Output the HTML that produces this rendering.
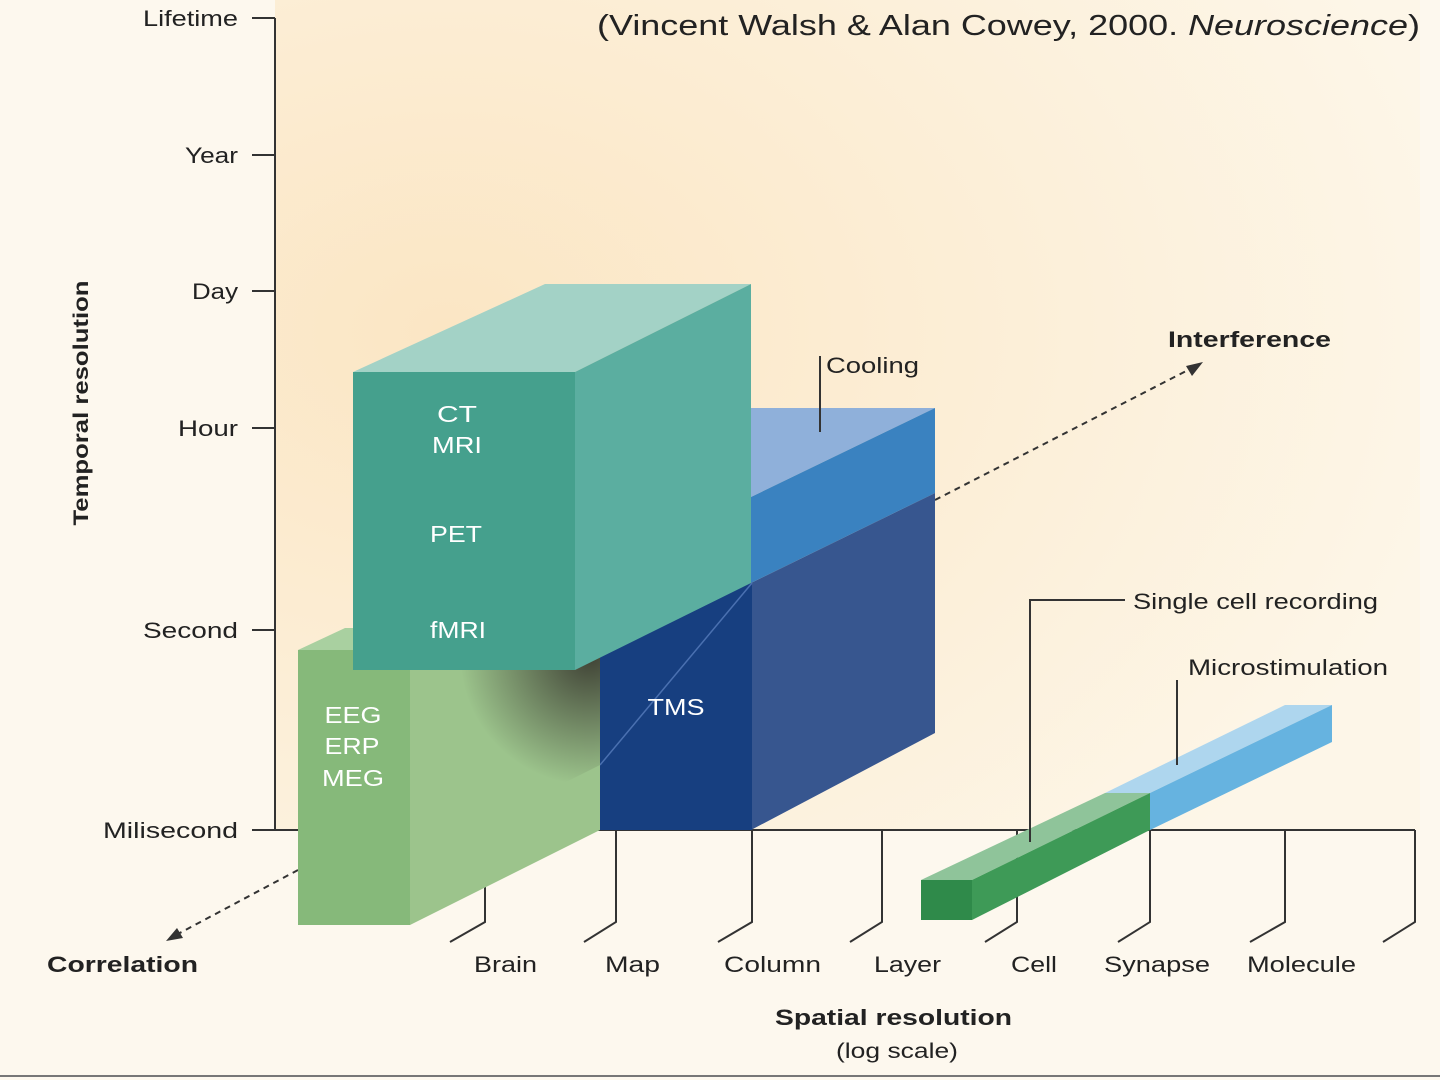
<!DOCTYPE html>
<html><head><meta charset="utf-8"><style>
body{margin:0;background:#fdf8ee}
svg{display:block}
text{font-family:"Liberation Sans",sans-serif;fill:#222}
</style></head><body>
<svg width="1440" height="1080" viewBox="0 0 1440 1080">
<defs>
<radialGradient id="bg" cx="0.15" cy="0.4" r="0.9">
<stop offset="0" stop-color="#fbe6c4"/><stop offset="1" stop-color="#fdf6e8"/>
</radialGradient>
<radialGradient id="dark" gradientUnits="userSpaceOnUse" cx="590" cy="655" r="130">
<stop offset="0" stop-color="#3a3a30" stop-opacity="0.95"/><stop offset="1" stop-color="#3a3a30" stop-opacity="0"/>
</radialGradient>
</defs>
<rect width="1440" height="1080" fill="#fdf8ee"/>
<rect x="275" y="0" width="1145" height="830" fill="url(#bg)"/>
<line x1="0" y1="1076" x2="1440" y2="1076" stroke="#777" stroke-width="2"/>
<g stroke="#333" stroke-width="2" fill="none">
<line x1="275" y1="18" x2="275" y2="830"/>
<line x1="275" y1="830" x2="1415" y2="830"/>
<line x1="252" y1="18" x2="275" y2="18"/><line x1="252" y1="155" x2="275" y2="155"/>
<line x1="252" y1="291" x2="275" y2="291"/><line x1="252" y1="428" x2="275" y2="428"/>
<line x1="252" y1="630" x2="275" y2="630"/><line x1="252" y1="830" x2="275" y2="830"/>
<polyline points="485,830 485,922 450,942"/>
<polyline points="616,830 616,922 584,942"/>
<polyline points="752,830 752,922 718,942"/>
<polyline points="882,830 882,922 850,942"/>
<polyline points="1017,830 1017,922 985,942"/>
<polyline points="1150,830 1150,922 1118,942"/>
<polyline points="1285,830 1285,922 1250,942"/>
<polyline points="1415,830 1415,922 1383,942"/>
</g>
<g font-size="22" text-anchor="end">
<text x="238" y="26" textLength="95" lengthAdjust="spacingAndGlyphs">Lifetime</text>
<text x="238" y="163" textLength="53" lengthAdjust="spacingAndGlyphs">Year</text>
<text x="238" y="299" textLength="46" lengthAdjust="spacingAndGlyphs">Day</text>
<text x="238" y="436" textLength="60" lengthAdjust="spacingAndGlyphs">Hour</text>
<text x="238" y="638" textLength="95" lengthAdjust="spacingAndGlyphs">Second</text>
<text x="238" y="838" textLength="135" lengthAdjust="spacingAndGlyphs">Milisecond</text>
</g>
<text transform="translate(88,403) rotate(-90)" font-size="21" font-weight="bold" text-anchor="middle" textLength="245" lengthAdjust="spacingAndGlyphs">Temporal resolution</text>
<text x="597" y="35" font-size="29" textLength="823" lengthAdjust="spacingAndGlyphs">(Vincent Walsh &amp; Alan Cowey, 2000. <tspan font-style="italic">Neuroscience</tspan>)</text>
<g stroke="#333" stroke-width="2" stroke-dasharray="6,5" fill="none">
<line x1="935" y1="500" x2="1192" y2="368"/>
<line x1="298" y1="870" x2="176" y2="935"/>
</g>
<polygon points="1203,362 1186,366 1192,376" fill="#333"/>
<polygon points="166,941 183,938 177,928" fill="#333"/>
<polygon points="751,408 935,408 751,497" fill="#8fb0da"/>
<polygon points="751,497 935,408 935,493 751,583" fill="#3a82c0"/>
<polygon points="751,583 935,493 935,733 751,830" fill="#37568f"/>
<polygon points="600,583 752,583 752,830 600,830" fill="#173f80"/>
<line x1="600" y1="765" x2="752" y2="583" stroke="#4a70b0" stroke-width="1.5"/>
<polygon points="410,650 600,555 600,830 410,925" fill="#9cc48c"/>
<polygon points="410,650 600,555 600,765 410,860" fill="url(#dark)"/>
<polygon points="298,650 410,650 410,925 298,925" fill="#86b97a"/>
<polygon points="298,650 345,628 420,628 410,650" fill="#a9d0a0"/>
<polygon points="353,372 545,284 751,284 575,372" fill="#a3d2c6"/>
<polygon points="575,372 751,284 751,583 575,670" fill="#5baea0"/>
<rect x="353" y="372" width="222" height="298" fill="#45a08d"/>
<g font-size="23" text-anchor="middle">
<text x="457" y="422" style="fill:#fff" textLength="40" lengthAdjust="spacingAndGlyphs">CT</text>
<text x="457" y="453" style="fill:#fff" textLength="50" lengthAdjust="spacingAndGlyphs">MRI</text>
<text x="456" y="542" style="fill:#fff" textLength="52" lengthAdjust="spacingAndGlyphs">PET</text>
<text x="458" y="638" style="fill:#fff" textLength="56" lengthAdjust="spacingAndGlyphs">fMRI</text>
<text x="676" y="715" style="fill:#fff" textLength="57" lengthAdjust="spacingAndGlyphs">TMS</text>
<text x="353" y="723" style="fill:#fff" textLength="57" lengthAdjust="spacingAndGlyphs">EEG</text>
<text x="352" y="754" style="fill:#fff" textLength="55" lengthAdjust="spacingAndGlyphs">ERP</text>
<text x="353" y="786" style="fill:#fff" textLength="62" lengthAdjust="spacingAndGlyphs">MEG</text>
</g>
<polygon points="1105,793 1150,793 1332,705 1285,705" fill="#aed6ee"/>
<polygon points="1150,793 1332,705 1332,742 1150,830" fill="#66b3e0"/>
<polygon points="921,880 972,880 1150,793 1105,793" fill="#8fc49a"/>
<polygon points="972,880 1150,793 1150,830 972,920" fill="#3e9a57"/>
<rect x="921" y="880" width="51" height="40" fill="#2f8a4a"/>
<g stroke="#333" stroke-width="2" fill="none">
<polyline points="1030,842 1030,600 1125,600"/>
<line x1="1177" y1="680" x2="1177" y2="765"/>
<line x1="820" y1="356" x2="820" y2="432"/>
</g>
<g font-size="22">
<text x="826" y="373" textLength="93" lengthAdjust="spacingAndGlyphs">Cooling</text>
<text x="1168" y="347" font-weight="bold" textLength="163" lengthAdjust="spacingAndGlyphs">Interference</text>
<text x="1133" y="609" textLength="245" lengthAdjust="spacingAndGlyphs">Single cell recording</text>
<text x="1188" y="675" textLength="200" lengthAdjust="spacingAndGlyphs">Microstimulation</text>
<text x="47" y="972" font-weight="bold" textLength="151" lengthAdjust="spacingAndGlyphs">Correlation</text>
<text x="474" y="972" textLength="63" lengthAdjust="spacingAndGlyphs">Brain</text>
<text x="605" y="972" textLength="55" lengthAdjust="spacingAndGlyphs">Map</text>
<text x="724" y="972" textLength="97" lengthAdjust="spacingAndGlyphs">Column</text>
<text x="874" y="972" textLength="67" lengthAdjust="spacingAndGlyphs">Layer</text>
<text x="1011" y="972" textLength="46" lengthAdjust="spacingAndGlyphs">Cell</text>
<text x="1104" y="972" textLength="106" lengthAdjust="spacingAndGlyphs">Synapse</text>
<text x="1247" y="972" textLength="109" lengthAdjust="spacingAndGlyphs">Molecule</text>
<text x="775" y="1025" font-weight="bold" textLength="237" lengthAdjust="spacingAndGlyphs">Spatial resolution</text>
<text x="836" y="1058" font-size="21" textLength="122" lengthAdjust="spacingAndGlyphs">(log scale)</text>
</g>
</svg>
</body></html>
